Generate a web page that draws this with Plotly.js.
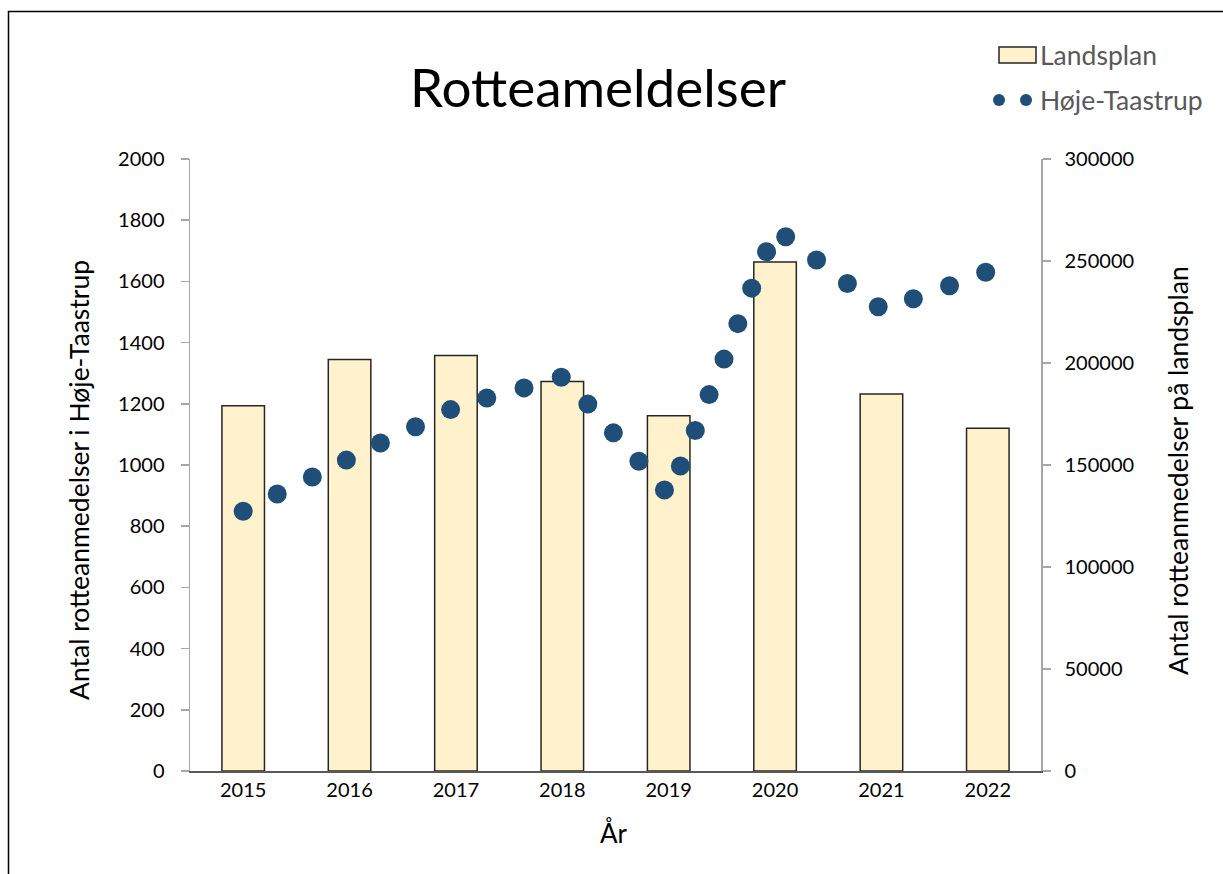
<!DOCTYPE html>
<html>
<head>
<meta charset="utf-8">
<script src="https://cdn.plot.ly/plotly-3.0.1.min.js"></script>
<style>html,body{margin:0;padding:0;background:#fff;}#chart{width:1223px;height:874px;}</style>
</head>
<body>
<div id="chart"></div>
<script>
// ---- data ----
const years = [2015, 2016, 2017, 2018, 2019, 2020, 2021, 2022];
const landsplan = [179000, 201700, 203700, 190900, 174200, 249500, 184800, 168000];

const hojeX = [2015.00, 2015.32, 2015.65, 2015.97, 2016.29, 2016.62, 2016.95, 2017.29,
               2017.64, 2017.99, 2018.24, 2018.48, 2018.72, 2018.96, 2019.11, 2019.25,
               2019.38, 2019.52, 2019.65, 2019.78, 2019.92, 2020.10, 2020.39, 2020.68,
               2020.97, 2021.30, 2021.64, 2021.98];
const hojeY = [849, 905, 961, 1016, 1072, 1125, 1181, 1219,
               1252, 1287, 1199, 1105, 1012, 918, 997, 1113,
               1230, 1346, 1462, 1578, 1697, 1746, 1670, 1593,
               1517, 1543, 1586, 1630];

const leftTicks = [0, 200, 400, 600, 800, 1000, 1200, 1400, 1600, 1800, 2000];
const rightTicks = [0, 50000, 100000, 150000, 200000, 250000, 300000];

// ---- layout helpers ----
const W = 1223, H = 874;
const L = 190, R = 1041, T = 159, B = 771;
const px = x => (x - L) / (R - L);
const py = y => (B - y) / (B - T);

const FONT = 'Lato, "Open Sans", sans-serif';
const barFill = '#fff2cc';
const dotColor = '#1f4e79';

const traces = [
  {
    type: 'bar', name: 'Landsplan', x: years, y: landsplan, width: 0.4,
    yaxis: 'y', marker: {color: barFill, line: {color: '#262626', width: 1.5}},
    showlegend: false, hoverinfo: 'x+y'
  },
  {
    type: 'scatter', mode: 'markers', name: 'Høje-Taastrup', x: hojeX, y: hojeY,
    yaxis: 'y2', marker: {color: dotColor, size: 19},
    showlegend: false
  }
];

const layout = {
  width: W, height: H,
  margin: {l: L, r: W - R, t: T, b: H - B},
  paper_bgcolor: '#fff', plot_bgcolor: '#fff',
  font: {family: FONT, color: '#000'},
  title: {
    text: 'Rotteameldelser', font: {family: FONT, size: 53, color: '#000'},
    xref: 'container', yref: 'container', x: 598 / W, y: 1 - 88 / H,
    xanchor: 'center', yanchor: 'middle'
  },
  xaxis: {
    range: [2014.5, 2022.5], tickmode: 'array', tickvals: years,
    ticktext: years.map(String), ticks: '', showgrid: false, zeroline: false,
    showline: true, linecolor: '#595959', linewidth: 2,
    tickfont: {family: FONT, size: 20, color: '#000'},
    fixedrange: true
  },
  yaxis: {
    side: 'right', range: [0, 300000], tickmode: 'array', tickvals: rightTicks,
    ticktext: rightTicks.map(String), showgrid: false, zeroline: false,
    showline: true, linecolor: '#a6a6a6', linewidth: 1.5,
    ticks: 'outside', ticklen: 8, tickcolor: '#a6a6a6', tickwidth: 1.5,
    ticklabelstandoff: 10,
    tickfont: {family: FONT, size: 20, color: '#000'}
  },
  yaxis2: {
    overlaying: 'y', side: 'left', range: [0, 2000], tickmode: 'array', tickvals: leftTicks,
    ticktext: leftTicks.map(String), showgrid: false, zeroline: false,
    showline: true, linecolor: '#a6a6a6', linewidth: 1.5,
    ticks: 'outside', ticklen: 8, tickcolor: '#a6a6a6', tickwidth: 1.5,
    ticklabelstandoff: 12,
    tickfont: {family: FONT, size: 20, color: '#000'}
  },
  annotations: [
    {text: 'Antal rotteanmedelser i Høje-Taastrup', xref: 'paper', yref: 'paper',
     x: px(79), y: py(480), textangle: -90, showarrow: false,
     xanchor: 'center', yanchor: 'middle', font: {family: FONT, size: 26.5, color: '#000'}},
    {text: 'Antal rotteanmedelser på landsplan', xref: 'paper', yref: 'paper',
     x: px(1178), y: py(471), textangle: -90, showarrow: false,
     xanchor: 'center', yanchor: 'middle', font: {family: FONT, size: 26.5, color: '#000'}},
    {text: 'År', xref: 'paper', yref: 'paper', x: px(614), y: py(833), showarrow: false,
     xanchor: 'center', yanchor: 'middle', font: {family: FONT, size: 26, color: '#000'}},
    {text: 'Landsplan', xref: 'paper', yref: 'paper', x: px(1038), y: py(55), showarrow: false,
     xanchor: 'left', yanchor: 'middle', font: {family: FONT, size: 26.5, color: '#595959'}},
    {text: 'Høje-Taastrup', xref: 'paper', yref: 'paper', x: px(1038), y: py(100), showarrow: false,
     xanchor: 'left', yanchor: 'middle', font: {family: FONT, size: 26.5, color: '#595959'}}
  ],
  shapes: [
    // outer frame (left and top edges visible)
    {type: 'rect', xref: 'paper', yref: 'paper', x0: px(8.5), y0: py(900), x1: px(1240), y1: py(11.5),
     line: {color: '#000', width: 1.5}, fillcolor: 'rgba(0,0,0,0)', layer: 'below'},
    // legend swatches
    {type: 'rect', xref: 'paper', yref: 'paper', x0: px(999), y0: py(63), x1: px(1036), y1: py(47),
     line: {color: '#262626', width: 1.5}, fillcolor: barFill},
    {type: 'circle', xref: 'paper', yref: 'paper', x0: px(993), y0: py(106), x1: px(1005), y1: py(94),
     line: {width: 0}, fillcolor: dotColor},
    {type: 'circle', xref: 'paper', yref: 'paper', x0: px(1020), y0: py(106), x1: px(1032), y1: py(94),
     line: {width: 0}, fillcolor: dotColor}
  ],
  showlegend: false
};

Plotly.newPlot('chart', traces, layout, {displayModeBar: false, staticPlot: true});
</script>
</body>
</html>
